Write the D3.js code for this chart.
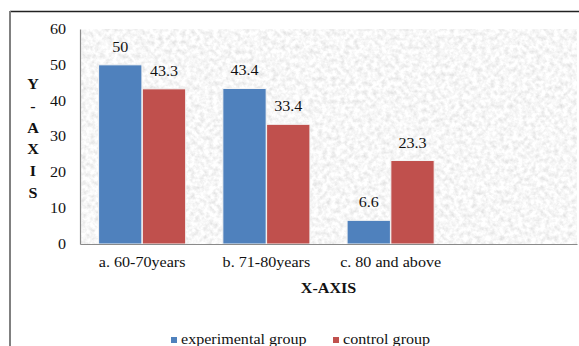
<!DOCTYPE html>
<html>
<head>
<meta charset="utf-8">
<script src="https://cdn.jsdelivr.net/npm/d3@7"></script>
<style>
  html, body { margin: 0; padding: 0; background: #fff; }
  svg text { font-family: "Liberation Serif", "Times New Roman", serif; }
</style>
</head>
<body>
<svg id="chart" width="579" height="346"></svg>
<script>
// Age groups (a fourth, empty slot keeps the right side of the plot open)
const categories = ["a. 60-70years", "b. 71-80years", "c. 80 and above", ""];
const seriesNames = ["experimental group", "control group"];
const experimental = [50, 43.4, 6.6];
const control = [43.3, 33.4, 23.3];
const yTicks = [0, 10, 20, 30, 40, 50, 60];
const colors = ["#4F81BD", "#C0504D"];
const yTitle = ["Y", "-", "A", "X", "I", "S"];
const xTitle = "X-AXIS";

const FONT = '"Liberation Serif", "Times New Roman", serif';
const SIZE = "14px";
const SX = 1.15;               // text is drawn slightly widened
const svg = d3.select("#chart");
const plot = { left: 80, right: 577, top: 29, bottom: 244 };

function styleText(sel, bold) {
  sel.style("font-family", FONT).style("font-size", SIZE)
    .style("font-weight", bold ? "bold" : "normal").attr("fill", "#111");
}
function place(sel, fx, fy) {
  sel.attr("x", 0).attr("y", 0)
    .attr("transform", (d, i) => `translate(${fx(d, i)},${fy(d, i)}) scale(${SX},1)`);
}

// Speckled grey fill for the plot area
const defs = svg.append("defs");
const f = defs.append("filter").attr("id", "grain")
  .attr("x", 0).attr("y", 0).attr("width", "100%").attr("height", "100%");
f.append("feTurbulence").attr("type", "fractalNoise")
  .attr("baseFrequency", "0.22").attr("numOctaves", 3).attr("seed", 7).attr("result", "n");
f.append("feColorMatrix").attr("in", "n").attr("type", "matrix")
  .attr("values", [
    "0.45 0 0 0 0.705",
    "0.45 0 0 0 0.705",
    "0.45 0 0 0 0.705",
    "0 0 0 0 1"].join(" "));

// Outer frame (left and top edges visible)
svg.append("line").attr("x1", 10).attr("x2", 579).attr("y1", 11.5).attr("y2", 11.5)
  .attr("stroke", "#222").attr("stroke-width", 1.5);
svg.append("line").attr("x1", 10).attr("x2", 10).attr("y1", 11).attr("y2", 346)
  .attr("stroke", "#808080").attr("stroke-width", 2);

svg.append("rect")
  .attr("x", plot.left).attr("y", plot.top)
  .attr("width", plot.right - plot.left).attr("height", plot.bottom - plot.top)
  .attr("fill", "#ececec").attr("filter", "url(#grain)");

const y = d3.scaleLinear().domain([0, 60]).range([plot.bottom, plot.top]);
const x0 = d3.scaleBand().domain(categories).range([plot.left, plot.right])
  .paddingInner(0.292).paddingOuter(0.146);
const x1 = d3.scaleBand().domain(seriesNames).range([0, x0.bandwidth()]).padding(0.01);

const rows = categories.slice(0, 3).map((c, i) => ({
  cat: c,
  vals: [
    { s: seriesNames[0], v: experimental[i], c: colors[0] },
    { s: seriesNames[1], v: control[i], c: colors[1] }
  ]
}));

const g = svg.append("g").selectAll("g").data(rows).join("g")
  .attr("transform", d => `translate(${x0(d.cat)},0)`);

g.selectAll("rect").data(d => d.vals).join("rect")
  .attr("x", d => x1(d.s))
  .attr("y", d => y(d.v))
  .attr("width", x1.bandwidth())
  .attr("height", d => y(0) - y(d.v))
  .attr("fill", d => d.c)
  .attr("stroke", "#f4f4f4").attr("stroke-width", 1);

g.selectAll("text").data(d => d.vals).join("text")
  .call(place, d => x1(d.s) + x1.bandwidth() / 2, d => y(d.v) - 13)
  .attr("text-anchor", "middle")
  .call(styleText, false)
  .text(d => d.v);

// Y axis
const yAxis = svg.append("g").attr("transform", `translate(${plot.left},0)`)
  .call(d3.axisLeft(y).tickValues(yTicks).tickSize(0).tickPadding(14 / SX).tickFormat(d3.format("d")));
yAxis.select(".domain").attr("stroke", "#8a8a8a").attr("stroke-width", 1.2);
yAxis.selectAll("text").call(styleText, false).attr("transform", `scale(${SX},1)`);

// X axis
const xAxis = svg.append("g").attr("transform", `translate(0,${plot.bottom})`)
  .call(d3.axisBottom(x0).tickSize(0).tickPadding(13));
xAxis.select(".domain").attr("stroke", "#8a8a8a").attr("stroke-width", 1.2);
xAxis.selectAll("text").call(styleText, false).attr("transform", `scale(${SX},1)`);

// Axis titles
svg.append("g").selectAll("text").data(yTitle).join("text")
  .call(place, () => 33, (d, i) => 89 + i * 21.8)
  .attr("text-anchor", "middle")
  .call(styleText, true)
  .text(d => d);

svg.append("text").datum(xTitle)
  .call(place, () => (plot.left + plot.right) / 2, () => 293)
  .attr("text-anchor", "middle")
  .call(styleText, true)
  .text(d => d);

// Legend
const legendX = [171, 333];
const lg = svg.append("g").selectAll("g").data(seriesNames).join("g")
  .attr("transform", (d, i) => `translate(${legendX[i]},337)`);
lg.append("rect").attr("width", 6).attr("height", 6).attr("fill", (d, i) => colors[i]);
lg.append("text").call(place, () => 10, () => 7)
  .call(styleText, false).text(d => d);
</script>
</body>
</html>
